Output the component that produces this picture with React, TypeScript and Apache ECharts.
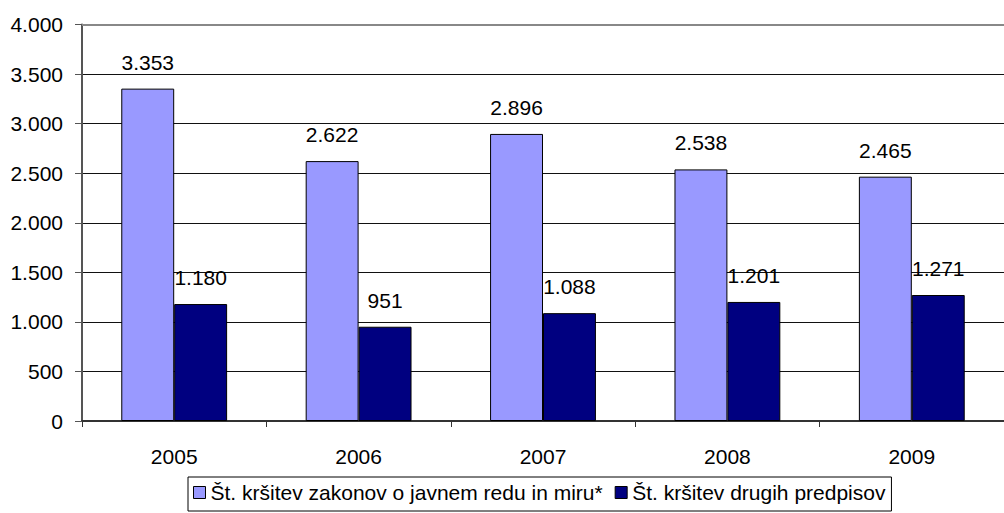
import React, { useEffect, useRef } from "react";
import * as echarts from "echarts";

const years = ["2005", "2006", "2007", "2008", "2009"];
const seriesNames = [
  "Št. kršitev zakonov o javnem redu in miru*",
  "Št. kršitev drugih predpisov",
];
const publicOrder = [3353, 2622, 2896, 2538, 2465];
const otherRules = [1180, 951, 1088, 1201, 1271];
const yTicks = [0, 500, 1000, 1500, 2000, 2500, 3000, 3500, 4000];

const fmt = (v: number) =>
  String(Math.round(v)).replace(/\B(?=(\d{3})+(?!\d))/g, ".");

export default function App() {
  const ref = useRef<HTMLDivElement>(null);
  useEffect(() => {
    if (!ref.current) return;
    const chart = echarts.init(ref.current, null, { renderer: "svg" });
    const font = "'Liberation Sans', Arial, sans-serif";
    chart.setOption({
      animation: false,
      textStyle: { fontFamily: font },
      grid: { left: 82, top: 24.5, bottom: 92, right: -11 },
      legend: {
        left: 188,
        top: 477,
        itemWidth: 12,
        itemHeight: 12,
        itemGap: 12,
        icon: "rect",
        borderColor: "#000",
        borderWidth: 1,
        padding: [5, 6, 8, 5],
        textStyle: { fontSize: 21, color: "#000", fontFamily: font },
        data: seriesNames,
        itemStyle: { borderColor: "#000", borderWidth: 1 },
      },
      xAxis: {
        type: "category",
        data: years,
        axisLine: { lineStyle: { color: "#333", width: 2 } },
        axisTick: { show: true, length: 6, lineStyle: { color: "#333" } },
        axisLabel: { fontSize: 21, color: "#000", margin: 25 },
      },
      yAxis: {
        type: "value",
        min: 0,
        max: yTicks[yTicks.length - 1],
        interval: 500,
        axisLine: { show: true, lineStyle: { color: "#555", width: 2 } },
        axisTick: { show: true, length: 7, lineStyle: { color: "#555" } },
        axisLabel: { fontSize: 21, color: "#000", margin: 19, formatter: fmt },
        splitLine: { lineStyle: { color: "#111", width: 1 } },
      },
      series: [
        {
          name: seriesNames[0],
          type: "bar",
          data: publicOrder,
          barWidth: "28.7%",
          barGap: "0%",
          itemStyle: { color: "#9999FF", borderColor: "#000", borderWidth: 1 },
          label: {
            show: true,
            position: "top",
            distance: 16,
            fontSize: 21,
            color: "#000",
            formatter: (p: any) => fmt(p.value),
          },
          markLine: {
            silent: true,
            symbol: "none",
            label: { show: false },
            lineStyle: { color: "#888", width: 2, type: "solid" },
            data: [{ yAxis: yTicks[yTicks.length - 1] }],
          },
        },
        {
          name: seriesNames[1],
          type: "bar",
          data: otherRules,
          barWidth: "28.7%",
          barGap: "0%",
          itemStyle: { color: "#000080", borderColor: "#000", borderWidth: 1 },
          label: {
            show: true,
            position: "top",
            distance: 16,
            fontSize: 21,
            color: "#000",
            formatter: (p: any) => fmt(p.value),
          },
        },
      ],
    });
    return () => chart.dispose();
  }, []);
  return <div ref={ref} style={{ width: 1004, height: 513, position: "absolute", left: 0, top: 0 }} />;
}
